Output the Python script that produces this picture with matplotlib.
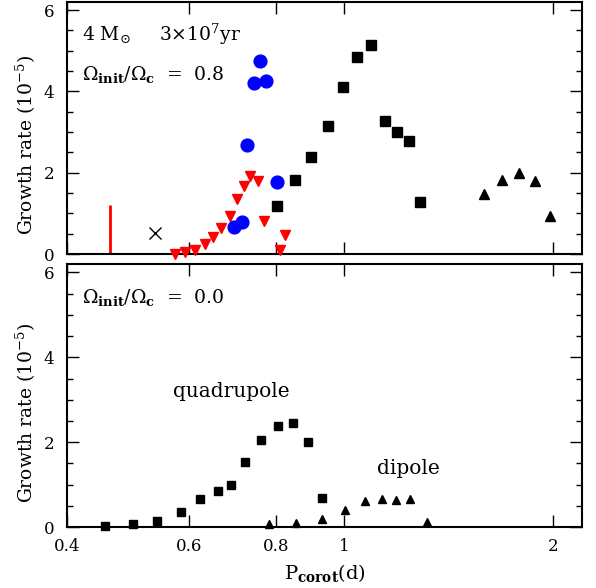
import numpy as np
import matplotlib

matplotlib.use("Agg")
import matplotlib.pyplot as plt
from matplotlib.ticker import FixedLocator, NullLocator, MultipleLocator

plt.rcParams["font.family"] = "DejaVu Serif"
plt.rcParams["mathtext.fontset"] = "dejavuserif"
plt.rcParams["font.size"] = 12

# ---- top panel: Omega_init/Omega_c = 0.8 ----
blue_p = [0.758, 0.743, 0.773, 0.726, 0.801, 0.696, 0.713]
blue_g = [4.74, 4.21, 4.26, 2.67, 1.78, 0.66, 0.79]

red_p = [0.572, 0.592, 0.612, 0.631, 0.649, 0.667, 0.685, 0.702, 0.719,
         0.734, 0.752, 0.767, 0.809, 0.823]
red_g = [0.0, 0.05, 0.10, 0.25, 0.43, 0.64, 0.93, 1.35, 1.68, 1.92, 1.79,
         0.82, 0.10, 0.46]

quad_top_p = [0.801, 0.850, 0.897, 0.949, 0.996, 1.045, 1.093, 1.145, 1.191,
              1.239, 1.289]
quad_top_g = [1.19, 1.81, 2.38, 3.16, 4.10, 4.85, 5.15, 3.28, 3.01, 2.79, 1.27]

dip_top_p = [1.591, 1.687, 1.784, 1.883, 1.98]
dip_top_g = [1.47, 1.82, 1.99, 1.79, 0.93]

cross_p, cross_g = 0.535, 0.51
redline_p, redline_g = 0.461, 1.2

# ---- bottom panel: Omega_init/Omega_c = 0.0 ----
quad_bot_p = [0.454, 0.497, 0.538, 0.583, 0.622, 0.660, 0.688, 0.722, 0.761,
              0.804, 0.845, 0.888, 0.930]
quad_bot_g = [0.02, 0.06, 0.15, 0.36, 0.65, 0.86, 0.98, 1.54, 2.04, 2.37,
              2.45, 2.01, 0.68]

dip_bot_p = [0.781, 0.855, 0.930, 1.003, 1.074, 1.135, 1.189, 1.246, 1.317]
dip_bot_g = [0.06, 0.10, 0.20, 0.40, 0.61, 0.66, 0.64, 0.65, 0.13]

xticks = [0.4, 0.6, 0.8, 1, 2]
xticklabels = ["0.4", "0.6", "0.8", "1", "2"]

fig = plt.figure(figsize=(5.96, 5.88), dpi=100)
ax1 = fig.add_axes([0.1124, 0.568, 0.8641, 0.4286])
ax2 = fig.add_axes([0.1124, 0.1037, 0.8641, 0.4473])

for ax in (ax1, ax2):
    ax.set_xscale("log")
    ax.set_xlim(0.4, 2.2)
    ax.set_ylim(0, 6.2)
    ax.xaxis.set_major_locator(FixedLocator(xticks))
    ax.xaxis.set_minor_locator(NullLocator())
    ax.yaxis.set_major_locator(MultipleLocator(2))
    ax.yaxis.set_minor_locator(MultipleLocator(0.5))
    ax.tick_params(which="both", direction="in", top=True, right=True,
                   width=1.0, labelsize=12)
    ax.tick_params(axis="x", pad=8)
    ax.tick_params(axis="y", pad=9)
    ax.tick_params(which="major", length=8.5)
    ax.tick_params(which="minor", length=4.3)
    for s in ax.spines.values():
        s.set_linewidth(1.5)
    ax.set_ylabel(r"Growth rate (10$^{-5}$)", fontsize=13.5)
    ax.yaxis.set_label_coords(-0.056, 0.435)

ax1.set_xticklabels([])
ax2.set_xticklabels(xticklabels)

mk = dict(linestyle="none", clip_on=False, zorder=3)
ax1.plot(quad_top_p, quad_top_g, marker="s", ms=6.8, color="black", **mk)
ax1.plot(dip_top_p, dip_top_g, marker="^", ms=7.2, color="black", **mk)
ax1.plot(red_p, red_g, marker="v", ms=7.2, color="red", **mk)
ax1.plot(blue_p, blue_g, marker="o", ms=9.2, color="blue", **mk)
ax1.plot([cross_p], [cross_g], marker="x", ms=8, mew=1.0, color="black", **mk)
ax1.vlines(redline_p, 0, redline_g, color="red", lw=2)

ax2.plot(quad_bot_p, quad_bot_g, marker="s", ms=6.3, color="black", **mk)
ax2.plot(dip_bot_p, dip_bot_g, marker="^", ms=6.3, color="black", **mk)

ax1.text(0.42, 5.4, r"4 M$_{\odot}$", fontsize=13.5, va="center")
ax1.text(0.542, 5.4, r"3$\times$10$^7$yr", fontsize=13.5, va="center")
ax1.text(0.42, 4.42, r"$\Omega_{\mathbf{init}}/\Omega_{\mathbf{c}}$  =  0.8",
         fontsize=13.5, va="center")
ax2.text(0.42, 5.42, r"$\Omega_{\mathbf{init}}/\Omega_{\mathbf{c}}$  =  0.0",
         fontsize=13.5, va="center")
ax2.text(0.568, 3.19, "quadrupole", fontsize=14.5, va="center")
ax2.text(1.117, 1.39, "dipole", fontsize=14.5, va="center")

ax2.set_xlabel(r"P$_{\mathbf{corot}}$(d)", fontsize=14, labelpad=5)

fig.savefig("out.png", dpi=100)
